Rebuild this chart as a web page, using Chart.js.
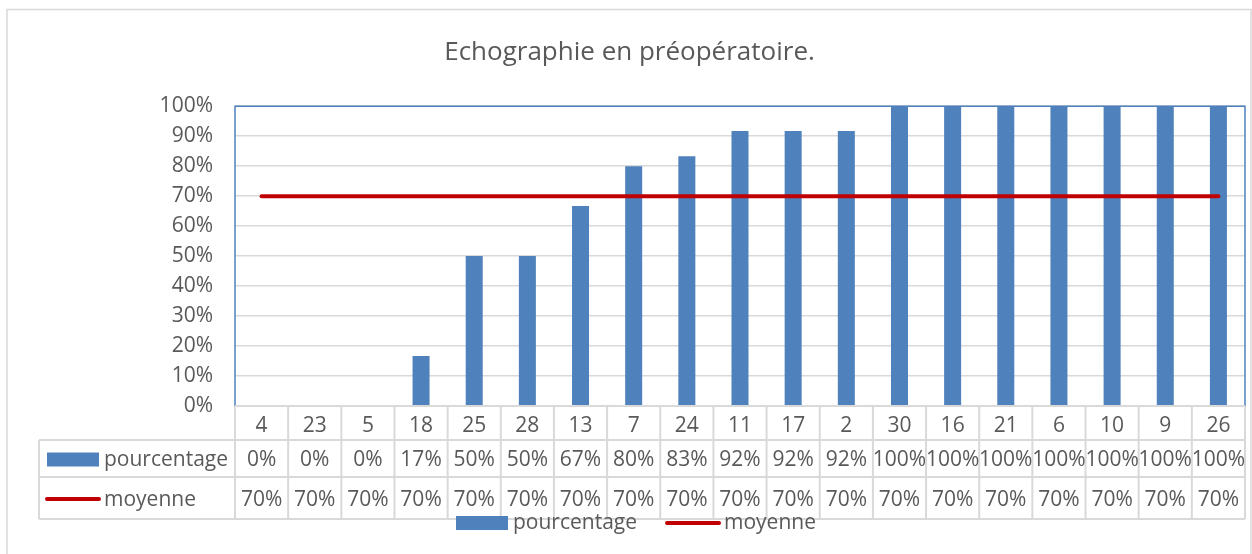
<!DOCTYPE html>
<html>
<head>
<meta charset="utf-8">
<script src="https://cdn.jsdelivr.net/npm/chart.js@4.4.1/dist/chart.umd.min.js"></script>
<style>
  html, body { margin: 0; padding: 0; background: #fff; }
  #wrap { width: 1252px; height: 554px; }
</style>
</head>
<body>
<div id="wrap"><canvas id="myChart" width="1252" height="554"></canvas></div>
<script>
var categories = ["4", "23", "5", "18", "25", "28", "13", "7", "24", "11", "17", "2", "30", "16", "21", "6", "10", "9", "26"];
var pourcentage = [0, 0, 0, 16.7, 50, 50, 66.7, 80, 83.3, 91.7, 91.7, 91.7, 100, 100, 100, 100, 100, 100, 100];
var moyenne = [70, 70, 70, 70, 70, 70, 70, 70, 70, 70, 70, 70, 70, 70, 70, 70, 70, 70, 70];
var yTicks = [0, 10, 20, 30, 40, 50, 60, 70, 80, 90, 100];

var textColor = "#595959";
var gridColor = "#d9d9d9";
var barColor = "#4f81bd";
var lineColor = "#c00000";
var fontFamily = "'Open Sans', sans-serif";

// draws the outer frame, the plot border, the data table and the legend
var tablePlugin = {
	id: "dataTable",
	beforeDraw: function(chart) {
		var ctx = chart.ctx;
		ctx.save();
		ctx.fillStyle = "#fff";
		ctx.fillRect(0, 0, chart.width, chart.height);
		ctx.strokeStyle = gridColor;
		ctx.lineWidth = 1.5;
		ctx.strokeRect(7, 9.5, chart.width - 8, chart.height);
		ctx.restore();
	},
	afterDraw: function(chart) {
		var ctx = chart.ctx;
		var area = chart.chartArea;
		var x = chart.scales.x;
		var n = categories.length;
		var rowTop = area.bottom;
		var row1 = rowTop + 34;
		var row2 = row1 + 37;
		var row3 = row2 + 42;
		var tableLeft = 39;
		var mid1 = (row1 + row2) / 2 + 2;
		var mid2 = (row2 + row3) / 2 + 2;

		ctx.save();
		// plot border
		ctx.strokeStyle = barColor;
		ctx.lineWidth = 1.5;
		ctx.beginPath();
		ctx.moveTo(area.left, area.bottom);
		ctx.lineTo(area.left, area.top);
		ctx.lineTo(area.right, area.top);
		ctx.lineTo(area.right, area.bottom);
		ctx.stroke();

		// table lines
		ctx.strokeStyle = gridColor;
		ctx.lineWidth = 2;
		ctx.beginPath();
		ctx.moveTo(area.left, rowTop); ctx.lineTo(area.right, rowTop);
		[row1, row2, row3].forEach(function(yy) {
			ctx.moveTo(tableLeft, yy); ctx.lineTo(area.right, yy);
		});
		ctx.moveTo(tableLeft, row1); ctx.lineTo(tableLeft, row3);
		ctx.moveTo(area.left, rowTop); ctx.lineTo(area.left, row3);
		ctx.moveTo(area.right, rowTop); ctx.lineTo(area.right, row3);
		for (var i = 0; i < n - 1; i++) {
			var bx = (x.getPixelForValue(i) + x.getPixelForValue(i + 1)) / 2;
			ctx.moveTo(bx, rowTop); ctx.lineTo(bx, row3);
		}
		ctx.stroke();

		// table values
		ctx.fillStyle = textColor;
		ctx.font = "21px " + fontFamily;
		ctx.textAlign = "center";
		ctx.textBaseline = "middle";
		for (var j = 0; j < n; j++) {
			var cx = x.getPixelForValue(j);
			ctx.fillText(Math.round(pourcentage[j]) + "%", cx, mid1);
			ctx.fillText(Math.round(moyenne[j]) + "%", cx, mid2);
		}

		// row headers
		ctx.textAlign = "left";
		ctx.fillStyle = barColor;
		ctx.fillRect(47, mid1 - 8, 52, 14);
		ctx.strokeStyle = lineColor;
		ctx.lineWidth = 4;
		ctx.lineCap = "round";
		ctx.beginPath();
		ctx.moveTo(47, mid2 - 1); ctx.lineTo(99, mid2 - 1);
		ctx.stroke();
		ctx.fillStyle = textColor;
		ctx.fillText("pourcentage", 104, mid1);
		ctx.fillText("moyenne", 104, mid2);

		// legend
		var ly = 523;
		ctx.fillStyle = barColor;
		ctx.fillRect(456, ly - 7, 52, 14);
		ctx.beginPath();
		ctx.moveTo(667, ly); ctx.lineTo(719, ly);
		ctx.stroke();
		ctx.fillStyle = textColor;
		ctx.fillText("pourcentage", 513, ly);
		ctx.fillText("moyenne", 724, ly);
		ctx.restore();
	}
};

new Chart("myChart", {
	type: "bar",
	data: {
		labels: categories,
		datasets: [{
			type: "line",
			label: "moyenne",
			data: moyenne,
			borderColor: lineColor,
			borderWidth: 4,
			borderCapStyle: "round",
			pointRadius: 0,
			fill: false,
			order: 0
		}, {
			label: "pourcentage",
			data: pourcentage,
			backgroundColor: barColor,
			categoryPercentage: 1,
			barPercentage: 0.32,
			order: 1
		}]
	},
	options: {
		responsive: false,
		animation: false,
		layout: {
			padding: { left: 14, right: 7, top: 0, bottom: 35 }
		},
		plugins: {
			legend: { display: false },
			tooltip: { enabled: false },
			title: {
				display: true,
				text: "Echographie en préopératoire.",
				color: textColor,
				font: { family: fontFamily, size: 26, weight: "normal" },
				padding: { top: 37, bottom: 38 }
			}
		},
		scales: {
			x: {
				grid: { display: false },
				border: { display: false },
				ticks: {
					color: textColor,
					font: { family: fontFamily, size: 21 },
					padding: -1,
					autoSkip: false,
					maxRotation: 0
				},
				afterFit: function(scale) { scale.height = 113; }
			},
			y: {
				min: 0,
				max: 100,
				grid: { color: gridColor, lineWidth: 1.5, drawTicks: false },
				border: { display: false },
				afterBuildTicks: function(scale) {
					scale.ticks = yTicks.map(function(v) { return { value: v }; });
				},
				ticks: {
					color: textColor,
					font: { family: fontFamily, size: 21 },
					padding: 22,
					callback: function(v) { return v + "%"; }
				},
				afterFit: function(scale) { scale.width = 221; }
			}
		}
	},
	plugins: [tablePlugin]
});
</script>
</body>
</html>
